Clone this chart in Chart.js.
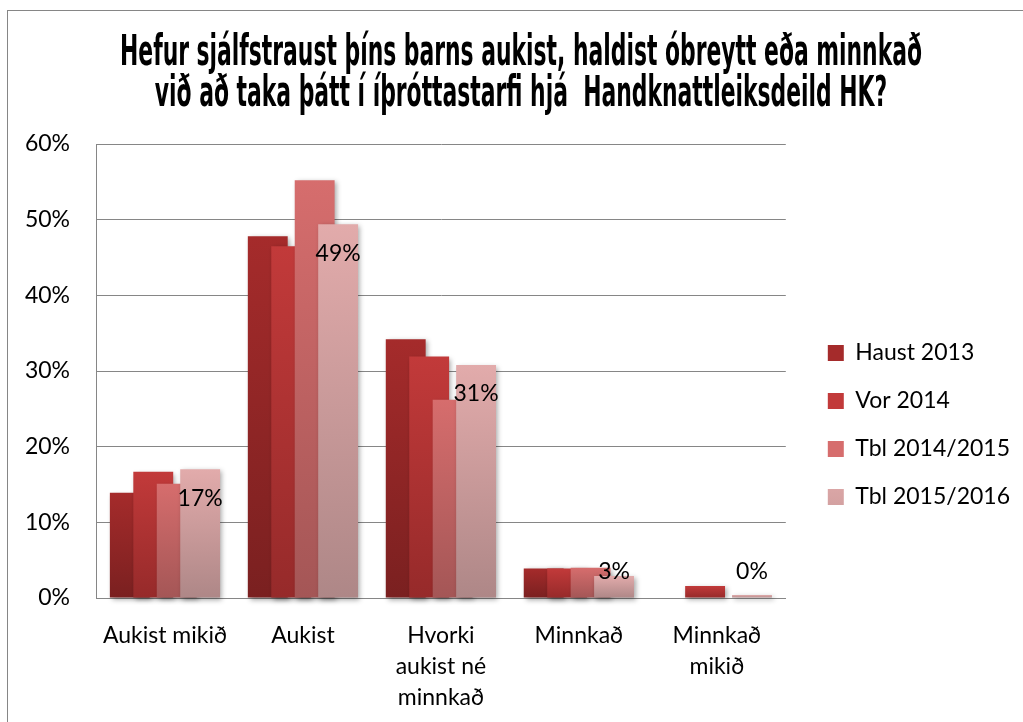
<!DOCTYPE html>
<html>
<head>
<meta charset="utf-8">
<script src="https://cdn.jsdelivr.net/npm/chart.js@4.4.1/dist/chart.umd.min.js"></script>
<style>
  html, body { margin: 0; padding: 0; background: #fff; }
  #wrap { width: 1023px; height: 722px; }
</style>
</head>
<body>
<div id="wrap"><canvas id="grafico" width="1023" height="722"></canvas></div>
<script>
// Gögn lesin af myndinni (prósentur)
const flokkar = [['Aukist mikið'], ['Aukist'], ['Hvorki', 'aukist né', 'minnkað'], ['Minnkað'], ['Minnkað', 'mikið']];
const haust2013 = [13.9, 47.8, 34.2, 3.9, 0];
const vor2014 = [16.7, 46.5, 31.9, 3.9, 1.6];
const tbl20142015 = [15.1, 55.2, 26.2, 4.0, 0];
const tbl20152016 = [17.0, 49.4, 30.8, 2.9, 0.4];
const yTicks = [0, 10, 20, 30, 40, 50, 60];
const titill = ['Hefur sjálfstraust þíns barns aukist, haldist óbreytt eða minnkað',
                'við að taka þátt í íþróttastarfi hjá  Handknattleiksdeild HK?'];

const grar = '#868686';
const letur = 'Lato, "Open Sans", sans-serif';

// litur sem dekkist niður eftir hverri súlu
function halli(efst, nedst) {
    return function (c) {
        if (c.type !== 'data') return efst;
        const y = c.chart.scales.y;
        if (!y) return efst;
        const y0 = y.getPixelForValue(c.raw);
        const y1 = y.getPixelForValue(0);
        if (!isFinite(y0) || Math.abs(y1 - y0) < 1) return efst;
        const g = c.chart.ctx.createLinearGradient(0, y0, 0, y1);
        g.addColorStop(0, efst);
        g.addColorStop(1, nedst);
        return g;
    };
}

// teikna súlurnar í röð svo seinni röðin liggi ofan á (eins og í Excel), með skugga
const rodun = {
    id: 'rodun',
    beforeDatasetsDraw(chart) {
        const ctx = chart.ctx;
        const a = chart.chartArea;
        ctx.save();
        ctx.beginPath();
        ctx.rect(a.left, a.top - 20, a.right - a.left, a.bottom - a.top + 30);
        ctx.clip();
        ctx.shadowColor = 'rgba(0,0,0,0.35)';
        ctx.shadowBlur = 5;
        ctx.shadowOffsetX = 2;
        ctx.shadowOffsetY = 2;
        for (let i = 0; i < chart.data.datasets.length; i++) {
            const meta = chart.getDatasetMeta(i);
            if (meta.visible) meta.controller.draw();
        }
        ctx.restore();
        return false;
    }
};

// rammi, titill og gildi á síðustu röðinni
const skraut = {
    id: 'skraut',
    beforeDraw(chart) {
        const ctx = chart.ctx;
        ctx.save();
        ctx.fillStyle = '#fff';
        ctx.fillRect(0, 0, chart.width, chart.height);
        ctx.strokeStyle = grar;
        ctx.lineWidth = 1;
        ctx.strokeRect(7.5, 10.5, chart.width + 40, chart.height + 40);
        ctx.restore();
    },
    afterDraw(chart) {
        const ctx = chart.ctx;
        ctx.save();
        ctx.fillStyle = '#000';
        ctx.font = 'bold 42px "Liberation Sans Narrow", "DejaVu Sans Condensed", "Liberation Sans", sans-serif';
        ctx.textAlign = 'center';
        ctx.textBaseline = 'alphabetic';
        const sx = 802 / ctx.measureText(titill[0]).width;
        [65, 106].forEach((b, i) => {
            ctx.save();
            ctx.translate(521, b);
            ctx.scale(sx, 1);
            ctx.fillText(titill[i], 0, 0);
            ctx.restore();
        });

        const meta = chart.getDatasetMeta(3);
        ctx.font = '23px ' + letur;
        ctx.textBaseline = 'middle';
        meta.data.forEach((el, i) => {
            const y = Math.min(el.y + 29, el.base - 26);
            ctx.fillText(Math.round(tbl20152016[i]) + '%', el.x, y);
        });
        ctx.restore();
    }
};

new Chart(document.getElementById('grafico').getContext('2d'), {
    type: 'bar',
    data: {
        labels: flokkar,
        datasets: [
            { label: 'Haust 2013', data: haust2013, backgroundColor: halli('#a52b2b', '#7a2020') },
            { label: 'Vor 2014', data: vor2014, backgroundColor: halli('#c23a3a', '#962a2a') },
            { label: 'Tbl 2014/2015', data: tbl20142015, backgroundColor: halli('#d66d6d', '#a45656') },
            { label: 'Tbl 2015/2016', data: tbl20152016, backgroundColor: halli('#e2abab', '#ae8787') }
        ]
    },
    options: {
        responsive: false,
        animation: false,
        categoryPercentage: 0.68,
        barPercentage: 1.7,
        layout: { padding: { top: 144, left: 25, right: 3, bottom: 16 } },
        plugins: {
            title: { display: false },
            tooltip: { enabled: false },
            legend: {
                position: 'right',
                labels: {
                    boxWidth: 16,
                    boxHeight: 16,
                    padding: 25,
                    color: '#000',
                    font: { family: letur, size: 23 }
                }
            }
        },
        scales: {
            x: {
                grid: { display: false, drawTicks: false },
                border: { color: grar, width: 1 },
                afterFit(s) { s.height = 108; },
                ticks: {
                    color: '#000',
                    padding: 22,
                    maxRotation: 0,
                    autoSkip: false,
                    font: { family: letur, size: 23, lineHeight: 1.35 }
                }
            },
            y: {
                min: 0,
                max: 60,
                afterBuildTicks(s) { s.ticks = yTicks.map(v => ({ value: v })); },
                afterFit(s) { s.width = 71; },
                grid: { color: grar, drawTicks: false },
                border: { color: grar, width: 1 },
                ticks: {
                    color: '#000',
                    padding: 26,
                    font: { family: letur, size: 23 },
                    callback: v => v + '%'
                }
            },
            bil: {
                display: false,
                position: 'right',
                min: 0,
                max: 1,
                afterFit(s) { s.width = 17; }
            }
        }
    },
    plugins: [skraut, rodun]
});
</script>
</body>
</html>
